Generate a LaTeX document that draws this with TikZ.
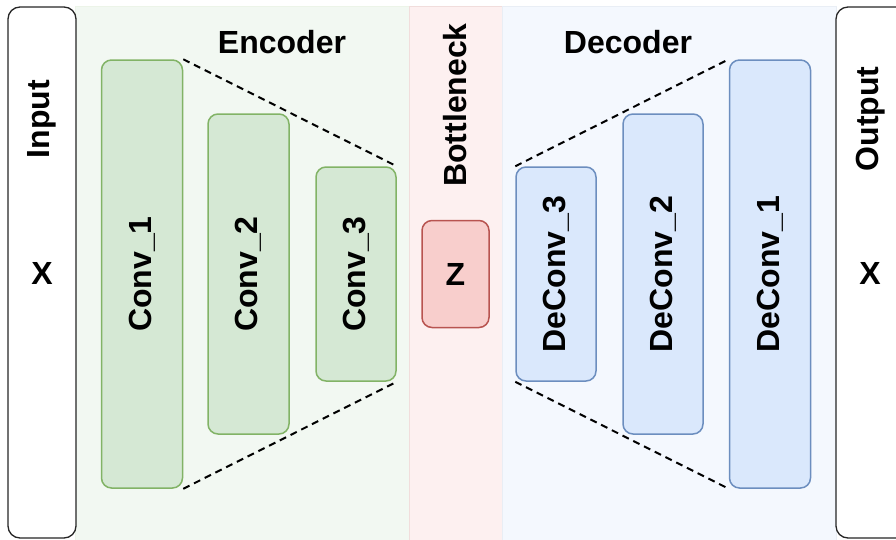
\documentclass[tikz,border=0pt]{standalone}
\usepackage{fontspec}
\setmainfont{Liberation Sans}
\definecolor{encfill}{HTML}{D5E8D4}
\definecolor{encline}{HTML}{82B366}
\definecolor{botfill}{HTML}{F8CECC}
\definecolor{botline}{HTML}{B85450}
\definecolor{decfill}{HTML}{DAE8FC}
\definecolor{decline}{HTML}{6C8EBF}

\begin{document}
\begin{tikzpicture}[x=1pt,y=-1pt,
    font=\fontsize{32}{38}\selectfont\bfseries,
    panel/.style={line width=1pt},
    layer/.style={rounded corners=10pt, line width=1.5pt, inner sep=0pt},
    convbox/.style={layer, fill=encfill, draw=encline},
    zbox/.style={layer, fill=botfill, draw=botline},
    deconvbox/.style={layer, fill=decfill, draw=decline},
    iobox/.style={rounded corners=12pt, line width=1.3pt, draw=black!85, fill=white, inner sep=0pt},
    funnel/.style={line width=2pt, dash pattern=on 7pt off 5pt}]
    \useasboundingbox (0,0) rectangle (896,539);

    % background panels
    \begin{scope}[panel]
        \draw[fill=encfill!30, draw=encline!15] (75,6) rectangle (409,545);
        \draw[fill=botfill!30, draw=botline!20] (409,6) rectangle (502,545);
        \draw[fill=decfill!30, draw=decline!15] (502,6) rectangle (836,545);
    \end{scope}

    % input and output
    \node[iobox, minimum width=68pt, minimum height=531pt] (inbox) at (42,272.5) {};
    \node[iobox, minimum width=80pt, minimum height=531pt] (outbox) at (876,272.5) {};
    \node (inlabel) at (42,119) {\rotatebox{90}{Input}};
    \node (inx) at (42,273) {X};
    \node (outlabel) at (871,119) {\rotatebox{90}{Output}};
    \node (outx) at (870,273) {X};

    % section titles
    \node (enctitle) at (282,42) {Encoder};
    \node (dectitle) at (628,42) {Decoder};
    \node (bottitle) at (455,105) {\rotatebox{90}{Bottleneck}};

    % encoder layers
    \node[convbox, minimum width=81pt, minimum height=428pt] (conv1) at (142,274) {\rotatebox{90}{Conv\_1}};
    \node[convbox, minimum width=81pt, minimum height=320pt] (conv2) at (248.5,274) {\rotatebox{90}{Conv\_2}};
    \node[convbox, minimum width=80pt, minimum height=214pt] (conv3) at (356,274) {\rotatebox{90}{Conv\_3}};

    % latent code
    \node[zbox, minimum width=67pt, minimum height=107pt] (z) at (455.5,274) {Z};

    % decoder layers
    \node[deconvbox, minimum width=80pt, minimum height=214pt] (deconv3) at (556,274) {\rotatebox{90}{DeConv\_3}};
    \node[deconvbox, minimum width=80pt, minimum height=320pt] (deconv2) at (663,274) {\rotatebox{90}{DeConv\_2}};
    \node[deconvbox, minimum width=81pt, minimum height=428pt] (deconv1) at (770,274) {\rotatebox{90}{DeConv\_1}};

    % funnel outlines
    \draw[funnel] (conv1.north east) -- (conv3.north east);
    \draw[funnel] (conv1.south east) -- (conv3.south east);
    \draw[funnel] (deconv3.north west) -- (deconv1.north west);
    \draw[funnel] (deconv3.south west) -- (deconv1.south west);
\end{tikzpicture}
\end{document}
